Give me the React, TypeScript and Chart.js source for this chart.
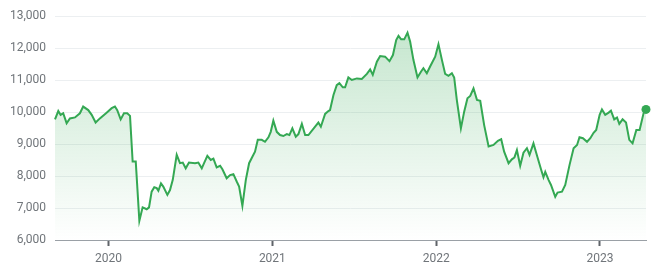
import React, { useEffect, useRef } from "react";
import { Chart, registerables } from "chart.js";

Chart.register(...registerables);

// Time as fractional years
const timeYears: number[] = [
  2019.673, 2019.693, 2019.707, 2019.723, 2019.744, 2019.764, 2019.795, 2019.825, 2019.845, 2019.876,
  2019.897, 2019.921, 2019.947, 2019.988, 2020.019, 2020.039, 2020.053, 2020.074, 2020.094, 2020.114,
  2020.131, 2020.147, 2020.166, 2020.188, 2020.208, 2020.233, 2020.247, 2020.263, 2020.279, 2020.294,
  2020.304, 2020.32, 2020.334, 2020.359, 2020.375, 2020.392, 2020.416, 2020.436, 2020.453, 2020.471,
  2020.491, 2020.528, 2020.548, 2020.569, 2020.583, 2020.603, 2020.624, 2020.64, 2020.66, 2020.681,
  2020.695, 2020.721, 2020.742, 2020.762, 2020.783, 2020.797, 2020.817, 2020.838, 2020.858, 2020.878,
  2020.894, 2020.911, 2020.935, 2020.955, 2020.976, 2020.99, 2021.006, 2021.027, 2021.047, 2021.067,
  2021.088, 2021.104, 2021.122, 2021.143, 2021.159, 2021.18, 2021.2, 2021.22, 2021.261, 2021.281,
  2021.296, 2021.322, 2021.342, 2021.352, 2021.373, 2021.393, 2021.409, 2021.43, 2021.444, 2021.464,
  2021.485, 2021.516, 2021.546, 2021.577, 2021.597, 2021.613, 2021.638, 2021.658, 2021.688, 2021.715,
  2021.736, 2021.756, 2021.77, 2021.786, 2021.805, 2021.825, 2021.841, 2021.861, 2021.886, 2021.907,
  2021.922, 2021.943, 2021.963, 2021.994, 2022.014, 2022.035, 2022.055, 2022.075, 2022.096, 2022.11,
  2022.126, 2022.151, 2022.171, 2022.191, 2022.208, 2022.228, 2022.249, 2022.269, 2022.293, 2022.32,
  2022.35, 2022.377, 2022.397, 2022.415, 2022.442, 2022.462, 2022.478, 2022.493, 2022.513, 2022.533,
  2022.554, 2022.57, 2022.594, 2022.619, 2022.64, 2022.655, 2022.666, 2022.686, 2022.701, 2022.727,
  2022.741, 2022.768, 2022.788, 2022.814, 2022.839, 2022.86, 2022.875, 2022.896, 2022.921, 2022.941,
  2022.961, 2022.977, 2022.998, 2023.012, 2023.032, 2023.053, 2023.067, 2023.087, 2023.104, 2023.118,
  2023.138, 2023.159, 2023.179, 2023.199, 2023.222, 2023.242, 2023.266, 2023.281,
];

const prices: number[] = [
  9770, 10030, 9910, 9960, 9650, 9800, 9830, 9960, 10170, 10060,
  9910, 9670, 9800, 9980, 10120, 10170, 10060, 9770, 9960, 9960,
  9880, 8450, 8450, 6600, 7020, 6960, 7020, 7510, 7650, 7620,
  7540, 7770, 7670, 7410, 7560, 7880, 8660, 8400, 8420, 8240,
  8420, 8400, 8420, 8240, 8400, 8630, 8500, 8540, 8270, 8320,
  8210, 7930, 8030, 8060, 7820, 7670, 7070, 7880, 8400, 8600,
  8760, 9130, 9130, 9070, 9210, 9380, 9730, 9380, 9280, 9250,
  9310, 9280, 9490, 9230, 9310, 9630, 9280, 9280, 9540, 9670,
  9540, 9940, 10030, 10060, 10530, 10840, 10900, 10770, 10770, 11080,
  11000, 11050, 11030, 11190, 11330, 11160, 11570, 11750, 11730, 11590,
  11780, 12250, 12380, 12270, 12270, 12480, 12200, 11630, 11080, 11260,
  11370, 11210, 11420, 11730, 12120, 11630, 11190, 11130, 11210, 11080,
  10380, 9490, 10010, 10430, 10500, 10740, 10380, 10350, 9590, 8920,
  8970, 9100, 9150, 8760, 8400, 8520, 8580, 8810, 8320, 8730,
  8870, 8660, 9020, 8580, 8210, 7960, 8130, 7880, 7720, 7350,
  7480, 7510, 7720, 8340, 8870, 8970, 9210, 9180, 9070, 9180,
  9350, 9440, 9910, 10080, 9910, 9980, 10040, 9770, 9830, 9630,
  9770, 9670, 9130, 9020, 9440, 9440, 9960, 10080,
];

const yearTicks: number[] = [2020, 2021, 2022, 2023];
const yMin = 6000;
const yMax = 13000;
const yStep = 1000;

const GREEN = "#34a853";
const LABEL_COLOR = "#70757a";

export default function App() {
  const canvasRef = useRef<HTMLCanvasElement | null>(null);

  useEffect(() => {
    const canvas = canvasRef.current;
    if (!canvas) return;
    const points = timeYears.map((t, i) => ({ x: t, y: prices[i] }));
    const radii = prices.map((_, i) => (i === prices.length - 1 ? 4.5 : 0));

    const chart = new Chart(canvas, {
      type: "line",
      data: {
        datasets: [
          {
            data: points,
            borderColor: GREEN,
            borderWidth: 2,
            pointRadius: radii,
            pointHoverRadius: radii,
            pointBackgroundColor: GREEN,
            pointBorderWidth: 0,
            tension: 0,
            clip: false,
            fill: "start",
            backgroundColor: (ctx: any) => {
              const area = ctx.chart.chartArea;
              if (!area) return "rgba(52,168,83,0.2)";
              const g = ctx.chart.ctx.createLinearGradient(0, area.top, 0, area.bottom);
              g.addColorStop(0, "rgba(52,168,83,0.3)");
              g.addColorStop(1, "rgba(52,168,83,0)");
              return g;
            },
          },
        ],
      },
      options: {
        animation: false,
        responsive: false,
        maintainAspectRatio: false,
        layout: { padding: { top: 8, right: 9, left: 0, bottom: 0 } },
        plugins: {
          legend: { display: false },
          tooltip: { enabled: false },
        },
        scales: {
          x: {
            type: "linear",
            min: timeYears[0],
            max: timeYears[timeYears.length - 1],
            afterBuildTicks: (scale: any) => {
              scale.ticks = yearTicks.map((v) => ({ value: v }));
            },
            afterFit: (scale: any) => {
              scale.height = 30;
              scale.paddingLeft = 0;
              scale.paddingRight = 0;
            },
            grid: {
              drawOnChartArea: false,
              drawTicks: true,
              tickLength: 6,
              tickColor: "#5f6368",
              tickWidth: 2,
            },
            border: { display: true, color: "#9aa0a6", width: 1 },
            ticks: {
              autoSkip: false,
              maxRotation: 0,
              padding: 6,
              color: LABEL_COLOR,
              font: { family: "Roboto, Arial, sans-serif", size: 12 },
              callback: (v: any) => String(v),
            },
          },
          y: {
            min: yMin,
            max: yMax,
            afterFit: (scale: any) => {
              scale.width = 47;
              scale.paddingTop = 0;
              scale.paddingBottom = 0;
            },
            grid: { color: "#eceff1", drawTicks: false, lineWidth: 1 },
            border: { display: false },
            ticks: {
              stepSize: yStep,
              padding: 9,
              color: LABEL_COLOR,
              font: { family: "Roboto, Arial, sans-serif", size: 12 },
              callback: (v: any) => Number(v).toLocaleString("en-US"),
            },
          },
        },
      },
    });
    return () => chart.destroy();
  }, []);

  return (
    <div style={{ width: 647, height: 262 }}>
      <canvas ref={canvasRef} width={647} height={262} style={{ display: "block" }} />
    </div>
  );
}
